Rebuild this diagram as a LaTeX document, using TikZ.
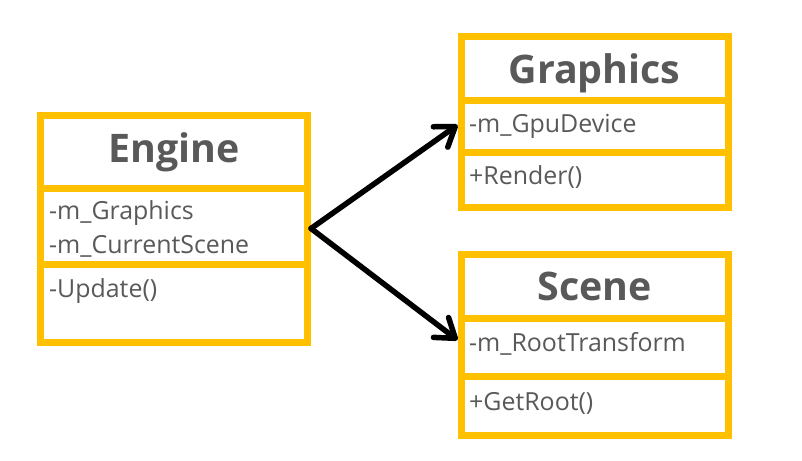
\documentclass[tikz,border=0pt]{standalone}
\usepackage{fontspec}
\setmainfont{Open Sans}
\usetikzlibrary{arrows.meta,calc}
\definecolor{umlgold}{HTML}{FFC000}
\definecolor{umltext}{HTML}{595959}
\begin{document}
\begin{tikzpicture}[x=1bp,y=-1bp,
  part/.style={draw=umlgold, line width=7bp, fill=white, inner sep=0pt, minimum width=267bp},
  title/.style={anchor=base, inner sep=0pt, text=umltext, font=\bfseries\fontsize{39.5}{46}\selectfont},
  member/.style={anchor=base west, inner sep=0pt, text=umltext, font=\fontsize{25}{30}\selectfont},
  assoc/.style={line width=5.5bp, line cap=round, -{Straight Barb[length=18bp, width=25bp, line cap=round, line join=round]}}
]
\useasboundingbox (0,0) rectangle (802,461);
% Engine
\node[part, minimum height=73bp] (etitle) at (174,152) {};
\node[part, minimum height=76bp] (eattr) at (174,226.5) {};
\node[part, minimum height=77.5bp] (emeth) at (174,303.25) {};
\node[title] (etitletext) at (174,163) {Engine};
\node[member] (ea1) at (49,220) {-m\_Graphics};
\node[member] (ea2) at (49,254) {-m\_CurrentScene};
\node[member] (em1) at (49,298) {-Update()};
% Graphics
\node[part, minimum height=64.5bp] (gtitle) at (594.5,68.75) {};
\node[part, minimum height=52bp] (gattr) at (594.5,127) {};
\node[part, minimum height=55bp] (gmeth) at (594.5,180.5) {};
\node[title] (gtitletext) at (594.5,84) {Graphics};
\node[member] (ga1) at (469,133) {-m\_GpuDevice};
\node[member] (gm1) at (469,185) {+Render()};
% Scene
\node[part, minimum height=64.5bp] (stitle) at (594.5,286.75) {};
\node[part, minimum height=58bp] (sattr) at (594.5,348) {};
\node[part, minimum height=58.5bp] (smeth) at (594.5,406.25) {};
\node[title] (stitletext) at (594.5,301) {Scene};
\node[member] (sa1) at (469,352) {-m\_RootTransform};
\node[member] (sm1) at (469,410) {+GetRoot()};
% associations
\coordinate (start) at ($(eattr.east)+(0,2)$);
\coordinate (gend) at ($(gattr.west)+(0,-2)$);
\coordinate (send) at ($(sattr.west)+(0,-8)$);
\draw[assoc] (start) -- (gend);
\draw[assoc] (start) -- (send);
\end{tikzpicture}
\end{document}
